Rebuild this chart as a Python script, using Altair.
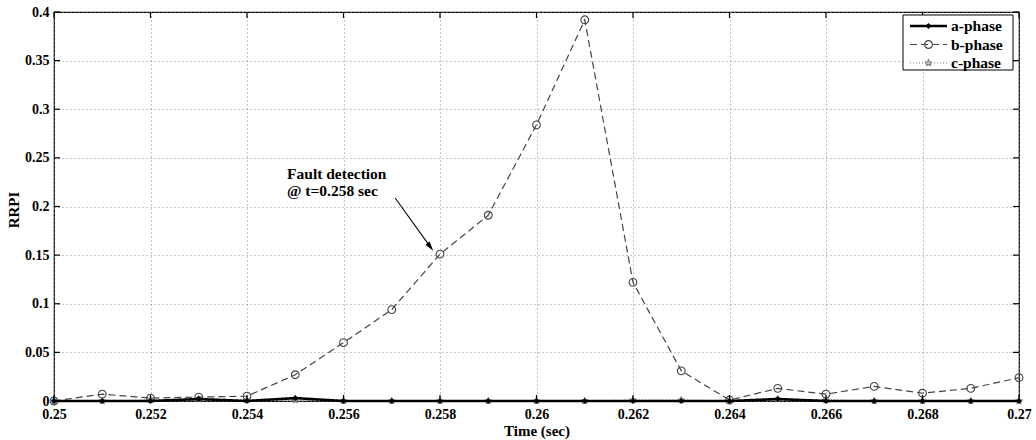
import altair as alt
import pandas as pd

# ---------------- data ----------------
times = [0.250, 0.251, 0.252, 0.253, 0.254, 0.255, 0.256, 0.257, 0.258, 0.259,
         0.260, 0.261, 0.262, 0.263, 0.264, 0.265, 0.266, 0.267, 0.268, 0.269, 0.270]
a_phase = [0.000, 0.000, 0.000, 0.002, 0.000, 0.003, 0.000, 0.000, 0.000, 0.000,
           0.000, 0.000, 0.000, 0.000, 0.000, 0.002, 0.000, 0.000, 0.000, 0.000, 0.000]
b_phase = [0.000, 0.007, 0.003, 0.004, 0.005, 0.027, 0.060, 0.094, 0.151, 0.191,
           0.284, 0.392, 0.122, 0.031, 0.001, 0.013, 0.007, 0.015, 0.008, 0.013, 0.024]
c_phase = [0.000, 0.000, 0.001, 0.002, 0.001, 0.001, 0.000, 0.000, 0.000, 0.000,
           0.000, 0.000, 0.001, 0.001, 0.000, 0.002, 0.001, 0.000, 0.000, 0.000, 0.000]
phases = ["a-phase", "b-phase", "c-phase"]
x_ticks = [0.250, 0.252, 0.254, 0.256, 0.258, 0.260, 0.262, 0.264, 0.266, 0.268, 0.270]
y_ticks = [0.0, 0.05, 0.10, 0.15, 0.20, 0.25, 0.30, 0.35, 0.40]
annotation_lines = ["Fault detection", "@ t=0.258 sec"]
annotation_text_at = [0.25483, 0.2405]
arrow_from = [0.25707, 0.2087]
arrow_to = [0.25780, 0.1585]

# ---------------- styling ----------------
W, H = 965, 389
FONT = "Liberation Serif"
STAR = ("M0,-1L0.29,-0.4L0.95,-0.31L0.47,0.15L0.59,0.81L0,0.5L-0.59,0.81"
        "L-0.47,0.15L-0.95,-0.31L-0.29,-0.4Z")
styles = {
    "a-phase": dict(color="#000000", dash=[1, 0], width=2.6, shape="diamond",
                    filled=True, size=36),
    "b-phase": dict(color="#444444", dash=[7, 4], width=1.2, shape="circle",
                    filled=False, size=60),
    "c-phase": dict(color="#777777", dash=[1, 2], width=1.2, shape=STAR,
                    filled=False, size=40),
}
series = {"a-phase": a_phase, "b-phase": b_phase, "c-phase": c_phase}

xscale = alt.Scale(domain=[x_ticks[0], x_ticks[-1]], nice=False, zero=False)
yscale = alt.Scale(domain=[y_ticks[0], y_ticks[-1]], nice=False)

xaxis = alt.Axis(values=x_ticks, labelExpr="format(datum.value, '~g')",
                 title="Time (sec)", grid=True, ticks=False, domain=False,
                 labelFlush=False, labelOverlap=False, labelPadding=6,
                 titlePadding=2)
yaxis = alt.Axis(values=y_ticks, labelExpr="format(datum.value, '~g')",
                 title="RRPI", grid=True, ticks=False, domain=False,
                 labelFlush=False, labelOverlap=False, labelPadding=5,
                 titleX=-41, titleY=H / 2 + 3, titleAngle=-90,
                 titleAlign="center", titleBaseline="middle")


def X(field="t"):
    return alt.X(f"{field}:Q", scale=xscale, axis=xaxis, title="Time (sec)")


def Y(field="v"):
    return alt.Y(f"{field}:Q", scale=yscale, axis=yaxis, title="RRPI")


layers = []
for ph in ["b-phase", "c-phase", "a-phase"]:
    st = styles[ph]
    df = pd.DataFrame({"t": times, "v": series[ph]})
    line = alt.Chart(df).mark_line(color=st["color"], strokeDash=st["dash"],
                                   strokeWidth=st["width"]).encode(x=X(), y=Y())
    pts = alt.Chart(df).mark_point(shape=st["shape"], filled=st["filled"],
                                   color=st["color"], size=st["size"],
                                   strokeWidth=1.1, opacity=1).encode(x=X(), y=Y())
    layers += [line, pts]

# inward ticks on all four sides
xt = pd.DataFrame({"t": x_ticks})
yt = pd.DataFrame({"v": y_ticks})
tick_len = 6
layers.append(alt.Chart(xt).mark_rule(color="black", strokeWidth=1.2).encode(
    x=X(), y=alt.value(H), y2=alt.value(H - tick_len)))
layers.append(alt.Chart(xt).mark_rule(color="black", strokeWidth=1.2).encode(
    x=X(), y=alt.value(0), y2=alt.value(tick_len)))
layers.append(alt.Chart(yt).mark_rule(color="black", strokeWidth=1.2).encode(
    y=Y(), x=alt.value(0), x2=alt.value(tick_len)))
layers.append(alt.Chart(yt).mark_rule(color="black", strokeWidth=1.2).encode(
    y=Y(), x=alt.value(W), x2=alt.value(W - tick_len)))

# annotation
ann = pd.DataFrame({"t": [annotation_text_at[0]], "v": [annotation_text_at[1]],
                    "label": ["\n".join(annotation_lines)]})
layers.append(alt.Chart(ann).mark_text(align="left", baseline="top", font=FONT,
                                       fontSize=15.5, fontWeight="bold",
                                       lineBreak="\n", lineHeight=17,
                                       color="black").encode(
    x=X(), y=Y(), text="label:N"))
arr = pd.DataFrame({"t": [arrow_from[0]], "v": [arrow_from[1]],
                    "t2": [arrow_to[0]], "v2": [arrow_to[1]]})
layers.append(alt.Chart(arr).mark_rule(color="black", strokeWidth=1.1).encode(
    x=X(), y=Y(), x2="t2:Q", y2="v2:Q"))
head = pd.DataFrame({"t": [arrow_to[0]], "v": [arrow_to[1]]})
layers.append(alt.Chart(head).mark_point(shape="M0,-1L0.55,1L-0.55,1Z", filled=True,
                                         color="black", size=90, angle=143,
                                         opacity=1).encode(x=X(), y=Y()))

# legend box (inside top-right of plot)
one = pd.DataFrame({"k": [0]})
layers.append(alt.Chart(one).mark_rect(fill="white", stroke="black",
                                       strokeWidth=1).encode(
    x=alt.value(849), x2=alt.value(W - 6), y=alt.value(3), y2=alt.value(58)))
for i, ph in enumerate(phases):
    st = styles[ph]
    yy = 14 + i * 18.5
    layers.append(alt.Chart(one).mark_rule(color=st["color"], strokeDash=st["dash"],
                                           strokeWidth=st["width"]).encode(
        x=alt.value(856), x2=alt.value(893), y=alt.value(yy)))
    layers.append(alt.Chart(one).mark_point(shape=st["shape"], filled=st["filled"],
                                            color=st["color"], size=st["size"],
                                            strokeWidth=1.1, opacity=1).encode(
        x=alt.value(874.5), y=alt.value(yy)))
    layers.append(alt.Chart(pd.DataFrame({"label": [ph]})).mark_text(
        align="left", baseline="middle", font=FONT, fontSize=15.5, fontWeight="bold",
        color="black").encode(x=alt.value(897), y=alt.value(yy), text="label:N"))

chart = alt.layer(*layers).properties(
    width=W, height=H,
    autosize=alt.AutoSizeParams(type="none"),
    padding={"left": 54, "top": 12, "right": 17, "bottom": 39},
    background="white",
).configure_view(stroke="black", strokeWidth=1.2).configure_axis(
    labelFont=FONT, labelFontSize=14, labelFontWeight="bold", labelColor="black",
    titleFont=FONT, titleFontSize=15, titleFontWeight="bold", titleColor="black",
    gridColor="#888888", gridDash=[1, 3], gridWidth=1, gridOpacity=1,
)

chart.save("out.html", embed_options={"renderer": "svg", "actions": False})
